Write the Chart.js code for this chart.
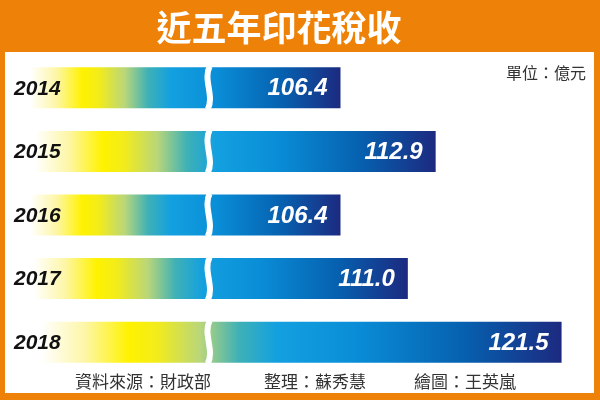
<!DOCTYPE html>
<html>
<head>
<meta charset="utf-8">
<script src="https://cdn.jsdelivr.net/npm/chart.js@4.4.1/dist/chart.umd.min.js"></script>
<style>
  html, body { margin: 0; padding: 0; background: #ee8208; }
  #wrap { width: 600px; height: 400px; }
</style>
</head>
<body>
<div id="wrap"><canvas id="taxChart" width="600" height="400"></canvas></div>
<script>
// 近五年印花稅收 (億元)
var years = ['2014', '2015', '2016', '2017', '2018'];
var stampTax = [106.4, 112.9, 106.4, 111.0, 121.5];
var titleText = '近五年印花稅收';
var unitText = '單位：億元';
var footerTexts = ['資料來源：財政部', '整理：蘇秀慧', '繪圖：王英嵐'];
var axisBreak = 97.4; // where the bars are cut (broken axis)

var orange = '#ee8208';
var cjk = '"Noto Sans CJK TC", "Noto Sans", sans-serif';
var latin = '"Liberation Sans", Arial, sans-serif';

// gradient along each bar, from the left edge to the bar's end
function barGradient(ctx) {
    var chart = ctx.chart;
    var area = chart.chartArea;
    if (!area) return '#0a90dc';
    var x1 = chart.scales.x.getPixelForValue(ctx.raw);
    var g = chart.ctx.createLinearGradient(area.left, 0, x1, 0);
    g.addColorStop(0, '#ffffff');
    g.addColorStop(0.05, '#ffffff');
    g.addColorStop(0.13, '#fdf6a6');
    g.addColorStop(0.21, '#fff200');
    g.addColorStop(0.26, '#f3ec1a');
    g.addColorStop(0.34, '#b9d67a');
    g.addColorStop(0.41, '#3fb1b6');
    g.addColorStop(0.48, '#13a0e0');
    g.addColorStop(0.62, '#0a8ed7');
    g.addColorStop(0.82, '#0661b0');
    g.addColorStop(1, '#1c2a80');
    return g;
}

var framePlugin = {
    id: 'frame',
    beforeDraw: function (chart) {
        var c = chart.ctx;
        c.save();
        c.fillStyle = orange;
        c.fillRect(0, 0, chart.width, chart.height);
        c.fillStyle = '#ffffff';
        c.fillRect(5, 52, 589, 341);
        c.fillStyle = '#ffffff';
        c.font = 'bold 35px ' + cjk;
        c.textAlign = 'center';
        c.textBaseline = 'middle';
        c.fillText(titleText, 279, 28);
        c.fillStyle = '#333333';
        c.font = '16px ' + cjk;
        c.textAlign = 'right';
        c.fillText(unitText, 586, 73);
        c.font = '17px ' + cjk;
        c.textAlign = 'left';
        c.fillText(footerTexts[0], 75, 382);
        c.fillText(footerTexts[1], 264, 382);
        c.fillText(footerTexts[2], 414, 382);
        c.restore();
    },
    afterDatasetsDraw: function (chart) {
        var c = chart.ctx;
        var meta = chart.getDatasetMeta(0);
        var yScale = chart.scales.y;
        var bx = chart.scales.x.getPixelForValue(axisBreak);
        c.save();
        meta.data.forEach(function (bar, i) {
            var top = bar.y - bar.height / 2 - 1;
            var bot = bar.y + bar.height / 2 + 1;
            var h = bot - top;
            // white wavy cut
            c.strokeStyle = '#ffffff';
            c.lineWidth = 6;
            c.beginPath();
            c.moveTo(bx + 1, top);
            c.bezierCurveTo(bx - 6, top + h * 0.3, bx + 6, top + h * 0.7, bx - 1, bot);
            c.stroke();
            // value label
            c.fillStyle = '#ffffff';
            c.font = 'italic bold 24px ' + latin;
            c.textAlign = 'right';
            c.textBaseline = 'middle';
            c.fillText(stampTax[i].toFixed(1), bar.x - 13, bar.y + 1);
            // year label
            c.fillStyle = '#111111';
            c.font = 'italic bold 21px ' + latin;
            c.textAlign = 'left';
            c.fillText(yScale.getLabelForValue(i), 14, yScale.getPixelForValue(i) + 1);
        });
        c.restore();
    }
};

new Chart(document.getElementById('taxChart'), {
    type: 'bar',
    data: {
        labels: years,
        datasets: [{
            data: stampTax,
            backgroundColor: barGradient,
            borderWidth: 0,
            barPercentage: 0.645,
            categoryPercentage: 1
        }]
    },
    options: {
        indexAxis: 'y',
        responsive: false,
        animation: false,
        layout: { padding: { top: 56, bottom: 26, left: 14, right: 15 } },
        plugins: {
            legend: { display: false },
            tooltip: { enabled: false }
        },
        scales: {
            x: { type: 'linear', min: 84.1, max: 123.1, display: false },
            y: { display: false }
        }
    },
    plugins: [framePlugin]
});
</script>
</body>
</html>
